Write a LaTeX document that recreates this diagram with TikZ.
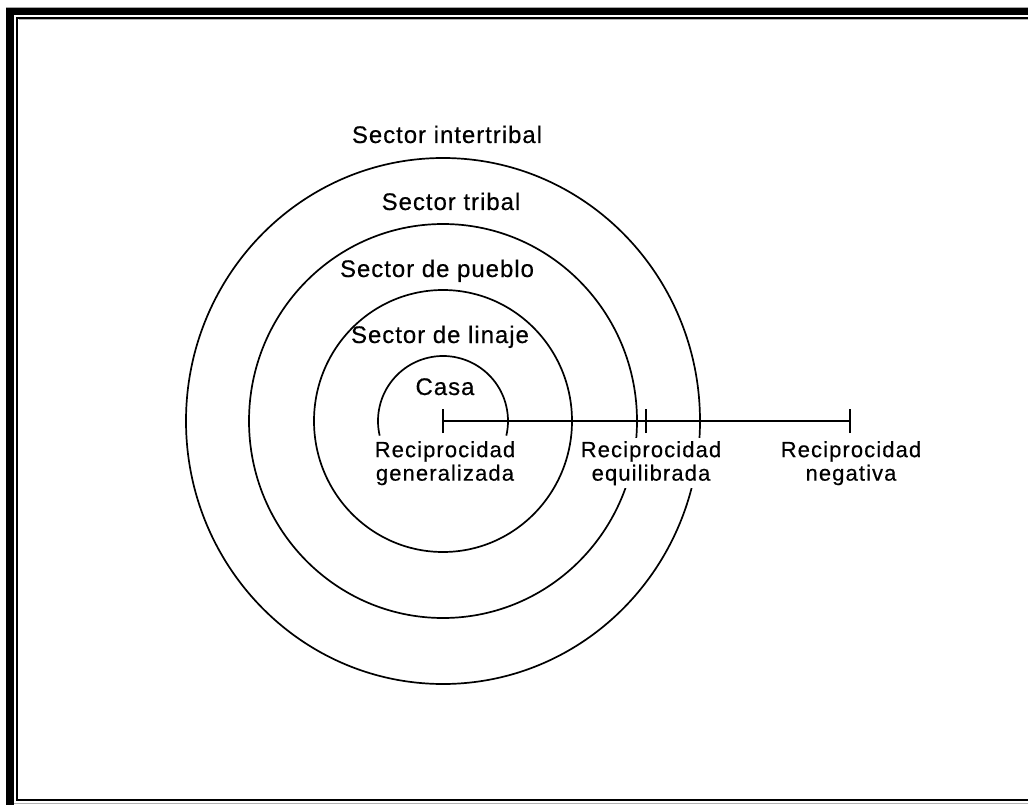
\documentclass[tikz,border=0pt]{standalone}
\usepackage{fontspec}
\setmainfont{Liberation Sans}
\newfontfamily\secfont[LetterSpace=4,FakeBold=0.4]{Liberation Sans}
\newfontfamily\recfont[LetterSpace=5,FakeBold=0.4]{Liberation Sans}
\begin{document}
\begin{tikzpicture}[x=1pt,y=-1pt,
  ring/.style={line width=1.7pt},
  tick/.style={line width=1.9pt},
  seclabel/.style={anchor=base,inner sep=0pt,font=\secfont\fontsize{24}{28}\selectfont},
  reclabel/.style={anchor=north,inner sep=3pt,fill=white,align=center,font=\recfont\fontsize{22}{23.5}\selectfont}]
\useasboundingbox (0,0) rectangle (1028,805);
% frame
\draw[gray!70,line width=1pt] (6,7.5) -- (1028,7.5);
\draw[line width=7.5pt] (10,805) -- (10,11.5) -- (1040,11.5);
\draw[line width=1.8pt] (1040,800) -- (16.8,800) -- (16.8,17.8) -- (1040,17.8);
\draw[gray!60,line width=1pt] (19,19.5) -- (1028,19.5);
\draw[gray!60,line width=1pt] (14,803.5) -- (1028,803.5);
% centre
\coordinate (c) at (443,421);
% rings
\draw[ring] (c) ellipse [x radius=129, y radius=131];
\draw[ring] (c) ellipse [x radius=194, y radius=197];
\draw[ring] (c) ellipse [x radius=257, y radius=263];
\draw[ring] ([shift={(167:65)}]c) arc [start angle=167, end angle=373, radius=65];
% scale line
\coordinate (t0) at (443,421);
\coordinate (t1) at (646,421);
\coordinate (t2) at (850,421);
\draw[tick] (t0) -- (t2);
\draw[tick] ([yshift=-12]t0) -- ([yshift=12]t0);
\draw[tick] ([yshift=-12]t1) -- ([yshift=12]t1);
\draw[tick] ([yshift=-12]t2) -- ([yshift=12]t2);
% sector labels
\node[seclabel] (sinter) at (447,143) {Sector intertribal};
\node[seclabel] (stribal) at (451,210) {Sector tribal};
\node[seclabel] (spueblo) at (437,277) {Sector de pueblo};
\node[seclabel] (slinaje) at (440,343) {Sector de linaje};
\node[seclabel] (casa) at (445,395) {Casa};
% reciprocity labels
\node[reclabel] (rgen) at (445,438) {Reciprocidad\\generalizada};
\node[reclabel] (requi) at (651,438) {Reciprocidad\\equilibrada};
\node[reclabel] (rneg) at (851,438) {Reciprocidad\\negativa};
\end{tikzpicture}
\end{document}
